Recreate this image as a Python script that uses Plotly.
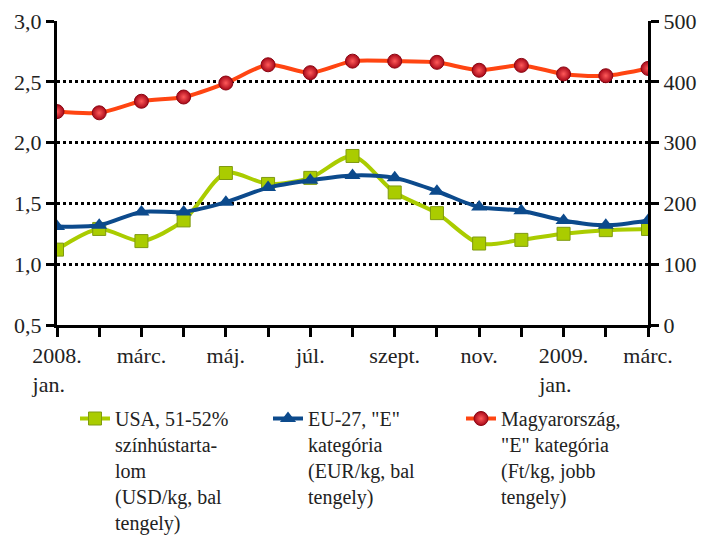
import plotly.graph_objects as go

# monthly data, 2008 jan .. 2009 márc
months = ["2008. jan.", "febr.", "márc.", "ápr.", "máj.", "jún.", "júl.", "aug.",
          "szept.", "okt.", "nov.", "dec.", "2009. jan.", "febr.", "márc."]
NB = "\u00a0" * 3
tick_labels = ["2008.<br>jan." + NB, "", "márc.", "", "máj.", "", "júl.", "",
               "szept.", "", "nov.", "", "2009.<br>jan." + NB, "", "márc."]

usa = [1.12, 1.29, 1.19, 1.36, 1.75, 1.66, 1.71, 1.89, 1.59, 1.42, 1.17, 1.20, 1.25, 1.28, 1.29]
eu27 = [1.31, 1.32, 1.43, 1.43, 1.51, 1.63, 1.69, 1.73, 1.71, 1.60, 1.47, 1.44, 1.36, 1.32, 1.36]
hun = [351, 349, 368, 375, 398, 428, 415, 434, 434, 432, 419, 427, 413, 410, 422]

names = [
    "USA, 51-52%<br>színhústarta-<br>lom<br>(USD/kg, bal<br>tengely)",
    "EU-27, \"E\"<br>kategória<br>(EUR/kg, bal<br>tengely)",
    "Magyarország,<br>\"E\" kategória<br>(Ft/kg, jobb<br>tengely)",
]

x = list(range(len(months)))
FONT = "Liberation Serif"

fig = go.Figure()
fig.add_trace(go.Scatter(
    x=x, y=usa, name=names[0], mode="lines+markers",
    line=dict(color="#aacc00", width=4, shape="spline", smoothing=0.8),
    marker=dict(symbol="square", size=13, color="#aacc00", line=dict(color="#7f9a10", width=1)),
))
fig.add_trace(go.Scatter(
    x=x, y=eu27, name=names[1], mode="lines+markers",
    line=dict(color="#0c4a8c", width=4, shape="spline", smoothing=0.8),
    marker=dict(symbol="triangle-up", size=14, color="#0c4a8c"),
))
fig.add_trace(go.Scatter(
    x=x, y=hun, name=names[2], mode="lines+markers", yaxis="y2",
    line=dict(color="#ff4512", width=4, shape="spline", smoothing=0.8),
    marker=dict(symbol="circle", size=14, color="#a80818",
                gradient=dict(type="radial", color="#ff5a5a"),
                line=dict(color="#8a0612", width=1)),
))

fig.update_layout(
    width=706, height=540,
    margin=dict(l=49, r=66, t=13, b=223),
    paper_bgcolor="white", plot_bgcolor="white",
    separators=", ",
    font=dict(family=FONT, size=22, color="#222222"),
    showlegend=True,
    legend=dict(orientation="h", x=67 / 706, xanchor="left", xref="container",
                y=1 - 391 / 540, yanchor="top", yref="container",
                font=dict(family=FONT, size=20), tracegroupgap=0, itemwidth=30,
                valign="top", entrywidth=148),
    xaxis=dict(
        range=[0, len(months) - 1], tickmode="array", tickvals=x, ticktext=tick_labels,
        showline=True, linecolor="black", linewidth=3, ticks="outside", ticklen=9,
        tickwidth=3, tickcolor="black", showgrid=False, zeroline=False, automargin=False,
    ),
    yaxis=dict(
        range=[0.5, 3.0], dtick=0.5, tickformat=".1f",
        showline=True, linecolor="black", linewidth=3, ticks="outside", ticklen=8,
        tickwidth=3, tickcolor="black", showgrid=True, gridcolor="black",
        gridwidth=3, griddash="dot", zeroline=False, automargin=False,
    ),
    yaxis2=dict(
        range=[0, 500], dtick=100, overlaying="y", side="right",
        showline=True, linecolor="black", linewidth=3, ticks="outside", ticklen=8,
        tickwidth=3, tickcolor="black", showgrid=False, zeroline=False, automargin=False,
    ),
)

fig.write_html("out.html")
